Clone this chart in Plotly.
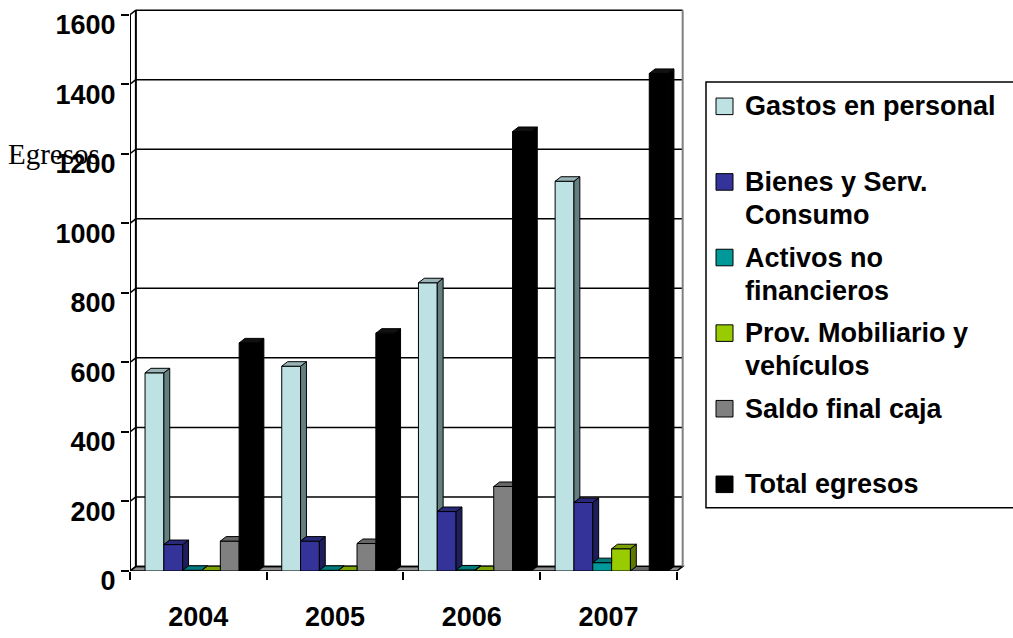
import plotly.graph_objects as go

# ---- data -------------------------------------------------------------
YEARS = ["2004", "2005", "2006", "2007"]
SERIES_LINES = [
    ["Gastos en personal"],
    ["Bienes y Serv.", "Consumo"],
    ["Activos no", "financieros"],
    ["Prov. Mobiliario y", "vehículos"],
    ["Saldo final caja"],
    ["Total egresos"],
]
gastos_personal = [570, 589, 829, 1121]
bienes_servicios = [76, 86, 171, 197]
activos_no_fin = [2, 2, 3, 24]
prov_mobiliario = [1, 1, 1, 64]
saldo_final = [86, 79, 243, 0]
total_egresos = [656, 684, 1264, 1431]
SERIES = [gastos_personal, bienes_servicios, activos_no_fin,
          prov_mobiliario, saldo_final, total_egresos]
Y_TICKS = [0, 200, 400, 600, 800, 1000, 1200, 1400, 1600]
AXIS_TITLE = "Egresos"

# ---- styling ----------------------------------------------------------
FRONT = ["#BEE2E4", "#333399", "#009999", "#99CC00", "#808080", "#000000"]
SIDE = ["#647F80", "#1E1E5C", "#005C5C", "#5C7A00", "#4D4D4D", "#000000"]
TOP = ["#98B4B6", "#29297A", "#007A7A", "#7AA300", "#666666", "#111111"]
FONT = "Liberation Sans, Arial, sans-serif"
W, H = 1013, 638
PL, PR, PT, PB = 130, 685, 6, 586          # plot area in pixels
XR = [-0.5, 3.56]
YR = [0, 1625]
BW = 0.1377                                 # bar width (category units)
OFF0 = -0.39                                # left edge of first bar in a group
DX, DY = 0.043, 13                          # depth of the 3-D box

x_pos = list(range(len(YEARS)))


def px_x(px):
    return (px - PL) / (PR - PL)


def px_y(py):
    return (PB - py) / (PB - PT)


fig = go.Figure()

# front faces of the columns
for i, vals in enumerate(SERIES):
    fig.add_trace(go.Bar(
        x=x_pos, y=vals, width=BW, offset=OFF0 + i * BW,
        name=" ".join(SERIES_LINES[i]),
        marker=dict(color=FRONT[i], line=dict(color="black", width=1)),
        showlegend=False,
    ))

# side and top faces, drawn left to right so nearer columns hide them
for i, vals in enumerate(SERIES):
    sx, sy, tx, ty = [], [], [], []
    for j, v in enumerate(vals):
        xl = j + OFF0 + i * BW
        xr = xl + BW
        vn = SERIES[i + 1][j] if i + 1 < len(SERIES) else 0
        if vn < v:
            b = vn
            sx += [xr, xr + DX, xr + DX, xr, xr, None]
            sy += [b, b + DY, v + DY, v, b, None]
        if vn - v > DY / 2:
            tx += [xl, xr, xr, xl + DX, xl, None]
            ty += [v, v, v + DY, v + DY, v, None]
        else:
            tx += [xl, xr, xr + DX, xl + DX, xl, None]
            ty += [v, v, v + DY, v + DY, v, None]
    if sx:
        fig.add_trace(go.Scatter(
            x=sx, y=sy, mode="lines", fill="toself", fillcolor=SIDE[i],
            line=dict(color="black", width=1), hoverinfo="skip",
            showlegend=False))
    fig.add_trace(go.Scatter(
        x=tx, y=ty, mode="lines", fill="toself", fillcolor=TOP[i],
        line=dict(color="black", width=1), hoverinfo="skip",
        showlegend=False))

shapes = []
x0, x1 = XR[0], len(YEARS) - 0.5
ymax = Y_TICKS[-1]
# floor
shapes.append(dict(
    type="path", layer="below",
    path=f"M {x0} 0 L {x1} 0 L {x1 + DX} {DY} L {x0 + DX} {DY} Z",
    fillcolor="#8f8f8f", line=dict(color="black", width=1.5)))
# grid lines across the side wall and the back wall
for t in Y_TICKS:
    shapes.append(dict(type="line", layer="below", x0=x0, y0=t,
                       x1=x0 + DX, y1=t + DY,
                       line=dict(color="black", width=1.5)))
    shapes.append(dict(type="line", layer="below", x0=x0 + DX, y0=t + DY,
                       x1=x1 + DX, y1=t + DY,
                       line=dict(color="black", width=1.5)))
# wall edges
shapes.append(dict(type="line", layer="below", x0=x0, y0=0, x1=x0, y1=ymax,
                   line=dict(color="black", width=2)))
shapes.append(dict(type="line", layer="below", x0=x0 + DX, y0=DY,
                   x1=x0 + DX, y1=ymax + DY,
                   line=dict(color="black", width=2)))
shapes.append(dict(type="line", layer="below", x0=x1 + DX, y0=DY,
                   x1=x1 + DX, y1=ymax + DY,
                   line=dict(color="#808080", width=2)))

# legend box
LEG_L, LEG_T, LEG_B = 706, 84, 521
shapes.append(dict(type="rect", xref="paper", yref="paper",
                   x0=px_x(LEG_L), x1=px_x(W + 20),
                   y0=px_y(LEG_B), y1=px_y(LEG_T),
                   line=dict(color="black", width=1.5), fillcolor="white"))

annotations = []
ROW0, ROW_STEP, LINE_STEP = 109, 77.6, 34
for i, lines in enumerate(SERIES_LINES):
    cy = ROW0 + i * ROW_STEP
    shapes.append(dict(type="rect", xref="paper", yref="paper",
                       x0=px_x(716), x1=px_x(733),
                       y0=px_y(cy + 8.5), y1=px_y(cy - 8.5),
                       fillcolor=FRONT[i], line=dict(color="black", width=1)))
    for k, txt in enumerate(lines):
        annotations.append(dict(
            xref="paper", yref="paper", x=px_x(743), y=px_y(cy + k * LINE_STEP),
            xanchor="left", yanchor="middle", text=txt, showarrow=False,
            font=dict(family=FONT, size=27, color="black", weight="bold")))

# axis title
annotations.append(dict(
    xref="paper", yref="paper", x=px_x(6), y=px_y(158),
    xanchor="left", yanchor="middle", text=AXIS_TITLE, showarrow=False,
    font=dict(family="Liberation Serif, Times New Roman, serif", size=29,
              color="black")))

fig.update_layout(
    width=W, height=H,
    margin=dict(l=PL, r=W - PR, t=PT, b=H - PB),
    paper_bgcolor="white", plot_bgcolor="white",
    barmode="overlay",
    shapes=shapes, annotations=annotations,
    showlegend=False,
    xaxis=dict(
        range=XR, tickvals=x_pos, ticktext=YEARS, ticks="",
        showgrid=False, zeroline=False, showline=False,
        tickfont=dict(family=FONT, size=27, color="black", weight="bold"),
        ticklabelstandoff=27,
        minor=dict(tickvals=[p - 0.5 for p in x_pos] + [x_pos[-1] + 0.5],
                   ticks="outside", ticklen=8, tickwidth=1.5,
                   tickcolor="black", showgrid=False),
    ),
    yaxis=dict(
        range=YR, tickvals=Y_TICKS, ticks="outside", ticklen=8,
        tickwidth=1.5, tickcolor="black",
        showgrid=False, zeroline=False, showline=False,
        ticklabelshift=10,
        tickfont=dict(family=FONT, size=27, color="black", weight="bold"),
    ),
)

fig.write_html("out.html")
